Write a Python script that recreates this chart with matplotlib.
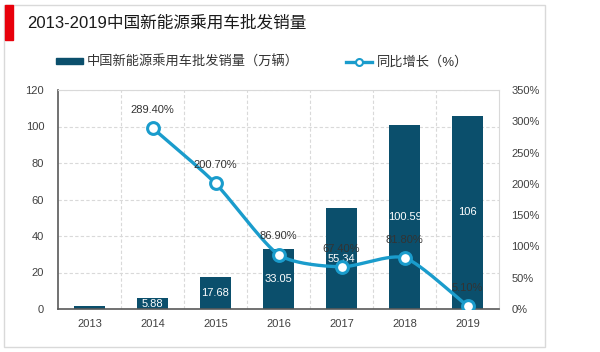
import matplotlib.pyplot as plt
import numpy as np
from matplotlib.patches import Rectangle
from matplotlib.lines import Line2D

plt.rcParams['font.family'] = ['Liberation Sans', 'Noto Sans CJK SC', 'DejaVu Sans']

# data
years = ['2013', '2014', '2015', '2016', '2017', '2018', '2019']
sales = [1.5, 5.88, 17.68, 33.05, 55.34, 100.59, 106]
sales_labels = ['', '5.88', '17.68', '33.05', '55.34', '100.59', '106']
growth_years = [1, 2, 3, 4, 5, 6]  # index into years
growth = [289.4, 200.7, 86.9, 67.4, 81.8, 5.1]
growth_labels = ['289.40%', '200.70%', '86.90%', '67.40%', '81.80%', '5.10%']

bar_color = '#0b4f6c'
line_color = '#1a9ccc'


def catmull_rom(xs, ys, n=30):
    # smooth curve through the points, like the smoothed line in the source
    xs = np.asarray(xs, float)
    ys = np.asarray(ys, float)
    px = np.concatenate([[2 * xs[0] - xs[1]], xs, [2 * xs[-1] - xs[-2]]])
    py = np.concatenate([[2 * ys[0] - ys[1]], ys, [2 * ys[-1] - ys[-2]]])
    outx, outy = [], []
    t = np.linspace(0, 1, n)
    for i in range(1, len(px) - 2):
        for p, out in ((px, outx), (py, outy)):
            p0, p1, p2, p3 = p[i - 1], p[i], p[i + 1], p[i + 2]
            m1 = (p2 - p0) / 2 * 0.7
            m2 = (p3 - p1) / 2 * 0.7
            h00 = 2 * t**3 - 3 * t**2 + 1
            h10 = t**3 - 2 * t**2 + t
            h01 = -2 * t**3 + 3 * t**2
            h11 = t**3 - t**2
            out.extend(h00 * p1 + h10 * m1 + h01 * p2 + h11 * m2)
    return np.array(outx), np.array(outy)


fig = plt.figure(figsize=(6, 3.52), dpi=100)

# outer frame and red title marker
fig.patches.append(Rectangle((4 / 600, 1 - 347 / 352), 541 / 600, 342 / 352,
                             transform=fig.transFigure, fill=False,
                             edgecolor='#d9d9d9', linewidth=1))
fig.patches.append(Rectangle((5 / 600, 1 - 40 / 352), 8 / 600, 35 / 352,
                             transform=fig.transFigure, color='#e8000b'))
fig.text(27 / 600, 1 - 23 / 352, '2013-2019中国新能源乘用车批发销量',
         fontsize=12, va='center', ha='left', color='#1a1a1a')

ax = fig.add_axes([58 / 600, 1 - 309 / 352, 441 / 600, 219 / 352])
x = np.arange(len(years))
ax.bar(x, sales, width=0.5, color=bar_color, zorder=2)
for xi, v, lab in zip(x, sales, sales_labels):
    if lab:
        ax.text(xi, v / 2, lab, ha='center', va='center', color='white',
                fontsize=8, zorder=5)

ax.set_xlim(-0.5, len(years) - 0.5)
ax.set_ylim(0, 120)
ax.set_yticks(range(0, 121, 20))
ax.set_xticks(x)
ax.set_xticklabels(years)
ax.tick_params(length=0, labelsize=8, colors='#404040')
ax.tick_params(axis='x', pad=7)
ax.tick_params(axis='y', pad=10)
ax.set_xticks(np.arange(0.5, len(years) - 0.5, 1), minor=True)
ax.grid(axis='y', linestyle=(0, (3, 2)), color='#d9d9d9', linewidth=0.8, zorder=0)
ax.grid(axis='x', which='minor', linestyle=(0, (3, 2)), color='#d9d9d9',
        linewidth=0.8, zorder=0)
ax.tick_params(which='minor', length=0)
for s in ('top', 'right'):
    ax.spines[s].set_color('#d9d9d9')
for s in ('left', 'bottom'):
    ax.spines[s].set_color('#595959')
    ax.spines[s].set_linewidth(1.2)

ax2 = ax.twinx()
ax2.set_ylim(0, 350)
ax2.set_yticks(range(0, 351, 50))
ax2.set_yticklabels([f'{v}%' for v in range(0, 351, 50)])
ax2.tick_params(length=0, labelsize=8, colors='#404040', pad=9)
for s in ax2.spines.values():
    s.set_visible(False)

sx, sy = catmull_rom(growth_years, growth)
ax2.plot(sx, sy, color=line_color, linewidth=2.4, zorder=3, solid_capstyle='round')
ax2.plot(growth_years, growth, 'o', markersize=8.5, markerfacecolor='white',
         markeredgecolor=line_color, markeredgewidth=2.2, zorder=4)
for xi, v, lab in zip(growth_years, growth, growth_labels):
    ax2.text(xi, v + 29, lab, ha='center', va='center', color='#333333',
             fontsize=8, zorder=6)

handles = [Rectangle((0, 0), 1, 1, color=bar_color),
           Line2D([], [], color=line_color, linewidth=2.4, marker='o',
                  markersize=5, markerfacecolor='white',
                  markeredgecolor=line_color, markeredgewidth=1.5)]
leg = fig.legend(handles, ['中国新能源乘用车批发销量（万辆）', '同比增长（%）'],
                 loc='center', bbox_to_anchor=(262 / 600, 1 - 62 / 352),
                 ncol=2, frameon=False, fontsize=9.5, handlelength=2.0,
                 handleheight=0.35, handletextpad=0.3, columnspacing=3.6,
                 labelcolor='#333333')

fig.savefig('out.png', dpi=100)
